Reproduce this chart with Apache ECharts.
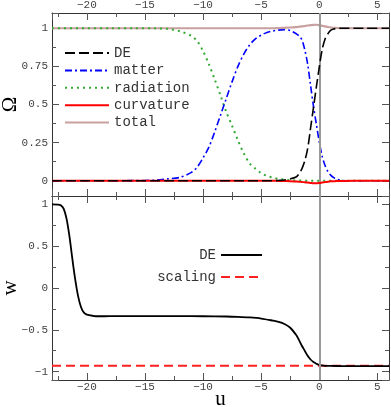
<!DOCTYPE html>
<html><head><meta charset="utf-8">
<script src="https://cdn.jsdelivr.net/npm/echarts@6/dist/echarts.min.js"></script>
<style>html,body{margin:0;padding:0;background:#fff}#c{width:391px;height:407px}</style>
</head><body><div id="c"></div>
<script>
// ---- data ----
const uTop = [-23, -20, -18, -16, -14, -13, -12, -11, -10.5, -10, -9.5, -9, -8.5, -8, -7.5, -7, -6.5, -6, -5.5, -5, -4.5, -4, -3.5, -3, -2.5, -2, -1.75, -1.5, -1.25, -1, -0.75, -0.5, -0.25, 0, 0.25, 0.5, 0.75, 1, 1.25, 1.5, 2, 3, 4, 6];
const omegaDE = [0,0,0,0,0,0,0,0,0,0,0,0,0,0,0,0,0,0,0,0,0,0, 0.002, 0.005, 0.012, 0.025, 0.045, 0.078, 0.13, 0.21, 0.345, 0.48, 0.615, 0.745, 0.86, 0.93, 0.965, 0.987, 0.995, 0.999, 1, 1, 1, 1];
const omegaMatter = [0, 0, 0, 0.001, 0.004, 0.013, 0.022, 0.055, 0.09, 0.15, 0.22, 0.32, 0.43, 0.54, 0.65, 0.75, 0.83, 0.89, 0.93, 0.955, 0.972, 0.982, 0.988, 0.99, 0.985, 0.965, 0.95, 0.925, 0.86, 0.765, 0.625, 0.49, 0.37, 0.255, 0.16, 0.1, 0.06, 0.035, 0.02, 0.01, 0.002, 0, 0, 0];
const omegaRadiation = [1, 1, 1, 1, 0.999, 0.996, 0.98, 0.95, 0.915, 0.85, 0.765, 0.665, 0.56, 0.45, 0.36, 0.265, 0.18, 0.115, 0.08, 0.05, 0.032, 0.02, 0.012, 0.007, 0.004, 0.002, 0.002, 0.001, 0.001, 0, 0,0,0,0,0,0,0,0,0,0,0,0,0,0];
const omegaCurvature = [0,0,0,0,0,0,0,0,0,0,0,0,0,0,0,0,0,0,0,0,0,0, -0.001, -0.002, -0.003, -0.005, -0.006, -0.008, -0.01, -0.012, -0.014, -0.016, -0.017, -0.015, -0.012, -0.009, -0.006, -0.004, -0.003, -0.002, -0.001, 0, 0, 0];
const omegaTotal = [1,1,1,1,1,1,1,1,1,1,1,1,1,1,1,1,1,1,1,1,1,1, 1.001, 1.003, 1.005, 1.008, 1.01, 1.012, 1.015, 1.018, 1.02, 1.022, 1.023, 1.02, 1.016, 1.012, 1.008, 1.005, 1.003, 1.002, 1.001, 1, 1, 1];

const uW = [-23, -22.5, -22.25, -22, -21.75, -21.5, -21.25, -21, -20.75, -20.5, -20.25, -20, -19.5, -19, -18, -16, -14, -12, -10, -8, -7, -6, -5, -4, -3.5, -3, -2.5, -2, -1.75, -1.5, -1.25, -1, -0.75, -0.5, -0.25, 0, 0.5, 1, 2, 4, 6];
const wDE = [1, 0.998, 0.99, 0.95, 0.83, 0.62, 0.35, 0.1, -0.1, -0.23, -0.295, -0.318, -0.332, -0.338, -0.337, -0.336, -0.336, -0.337, -0.338, -0.341, -0.345, -0.352, -0.365, -0.39, -0.405, -0.43, -0.475, -0.56, -0.62, -0.69, -0.75, -0.81, -0.855, -0.885, -0.905, -0.92, -0.93, -0.932, -0.933, -0.933, -0.933];
const uScaling = [-23, 6];
const wScaling = [-0.93, -0.93];

const uRange = [-23, 6];
const omegaRange = [-0.1, 1.1];
const wRange = [-1.1, 1.1];
const uStep = 5, omegaStep = 0.25, wStep = 0.5;

// ---- chart ----
const zip = (xs, ys) => xs.map((x, i) => [x, ys[i]]);
const mono = 'Liberation Mono, Courier New, monospace';
const serif = 'Liberation Serif, DejaVu Serif, serif';
const minus = v => String(v).replace('-', '\u2212');
const axisCol = '#333';

function xAx(grid, pos, labels, name) {
  return {
    type: 'value', gridIndex: grid, position: pos, min: uRange[0], max: uRange[1],
    minInterval: uStep, maxInterval: uStep, splitNumber: 6,
    axisLine: {show: true, onZero: false, lineStyle: {color: axisCol, width: 1}},
    axisTick: {show: true, inside: true, length: 7, lineStyle: {color: '#555'}},
    minorTick: {show: true, splitNumber: 2, length: 4, lineStyle: {color: '#555'}},
    splitLine: {show: false}, minorSplitLine: {show: false},
    axisLabel: {show: labels, margin: 2, fontFamily: mono, fontSize: 11, color: '#444',
      showMinLabel: false, showMaxLabel: false, formatter: minus},
    name: name || '', nameLocation: 'middle', nameGap: 9, nameMoveOverlap: false,
    nameTextStyle: {fontFamily: serif, fontSize: 21, color: '#000'}
  };
}
function yAx(grid, pos, labels, range, step, name) {
  return {
    type: 'value', gridIndex: grid, position: pos, min: range[0], max: range[1],
    minInterval: step, maxInterval: step,
    axisLine: {show: true, onZero: false, lineStyle: {color: axisCol, width: 1}},
    axisTick: {show: true, inside: true, length: 7, lineStyle: {color: '#555'}},
    minorTick: {show: true, splitNumber: 2, length: 4, lineStyle: {color: '#555'}},
    splitLine: {show: false}, minorSplitLine: {show: false},
    axisLabel: {show: labels, margin: 4, fontFamily: mono, fontSize: 11, color: '#444',
      showMinLabel: false, showMaxLabel: false, formatter: minus},
    name: name || '', nameLocation: 'middle', nameGap: 31, nameMoveOverlap: false,
    nameTextStyle: {fontFamily: serif, fontSize: 21, color: '#000'}
  };
}
const vline = {silent: true, symbol: 'none', label: {show: false}, animation: false,
  lineStyle: {color: '#999', width: 2, type: 'solid'}, data: [{xAxis: 0}]};

const option = {
  animation: false,
  backgroundColor: '#fff',
  grid: [
    {left: 52, right: 2, top: 13, height: 183, outerBoundsMode: 'none'},
    {left: 52, right: 2, top: 196, height: 184, outerBoundsMode: 'none'}
  ],
  xAxis: [xAx(0, 'top', true), xAx(0, 'bottom', false), xAx(1, 'bottom', true, 'u'), xAx(1, 'top', false)],
  yAxis: [yAx(0, 'left', true, omegaRange, omegaStep, '\u03A9'), yAx(0, 'right', false, omegaRange, omegaStep),
          yAx(1, 'left', true, wRange, wStep, 'w'), yAx(1, 'right', false, wRange, wStep)],
  legend: [
    {data: ['DE', 'matter', 'radiation', 'curvature', 'total'], orient: 'vertical', left: 64, top: 46,
     padding: 0, itemWidth: 44, itemHeight: 14, itemGap: 3.4, selectedMode: false,
     itemStyle: {opacity: 0},
     textStyle: {fontFamily: mono, fontSize: 14, lineHeight: 14, color: '#333'}},
    {data: ['w_DE', 'scaling'], orient: 'vertical', right: 128, top: 248, align: 'right',
     padding: 0, itemWidth: 41, itemHeight: 14, itemGap: 8, selectedMode: false,
     itemStyle: {opacity: 0},
     formatter: n => n === 'w_DE' ? 'DE' : n,
     textStyle: {fontFamily: mono, fontSize: 14, lineHeight: 14, color: '#333'}}
  ],
  series: [
    {name: 'total', type: 'line', xAxisIndex: 0, yAxisIndex: 0, data: zip(uTop, omegaTotal), showSymbol: false, symbol: 'none',
     smooth: 0.3, lineStyle: {color: '#c9a0a0', width: 2.2}, itemStyle: {color: '#c9a0a0'}, markLine: vline, z: 2},
    {name: 'radiation', type: 'line', xAxisIndex: 0, yAxisIndex: 0, data: zip(uTop, omegaRadiation), showSymbol: false, symbol: 'none',
     smooth: 0.3, lineStyle: {color: '#33aa33', width: 2, type: [2, 4]}, itemStyle: {color: '#33aa33'}, z: 3},
    {name: 'matter', type: 'line', xAxisIndex: 0, yAxisIndex: 0, data: zip(uTop, omegaMatter), showSymbol: false, symbol: 'none',
     smooth: 0.3, lineStyle: {color: '#0000ff', width: 1.6, type: [7, 3, 2, 3]}, itemStyle: {color: '#0000ff'}, z: 4},
    {name: 'curvature', type: 'line', xAxisIndex: 0, yAxisIndex: 0, data: zip(uTop, omegaCurvature), showSymbol: false, symbol: 'none',
     smooth: 0.3, lineStyle: {color: '#ff0000', width: 2}, itemStyle: {color: '#ff0000'}, z: 5},
    {name: 'DE', type: 'line', xAxisIndex: 0, yAxisIndex: 0, data: zip(uTop, omegaDE), showSymbol: false, symbol: 'none',
     smooth: 0.3, lineStyle: {color: '#000', width: 1.6, type: [10, 4]}, itemStyle: {color: '#000'}, z: 6},
    {name: 'scaling', type: 'line', xAxisIndex: 2, yAxisIndex: 2, data: zip(uScaling, wScaling), showSymbol: false, symbol: 'none',
     lineStyle: {color: '#ff2020', width: 2, type: [9, 5]}, itemStyle: {color: '#ff2020'}, markLine: vline, z: 3},
    {name: 'w_DE', type: 'line', xAxisIndex: 2, yAxisIndex: 2, data: zip(uW, wDE), showSymbol: false, symbol: 'none',
     smooth: 0.3, lineStyle: {color: '#000', width: 1.8}, itemStyle: {color: '#000'}, z: 4}
  ]
};
const chart = echarts.init(document.getElementById('c'), null, {renderer: 'canvas'});
chart.setOption(option);
</script></body></html>
